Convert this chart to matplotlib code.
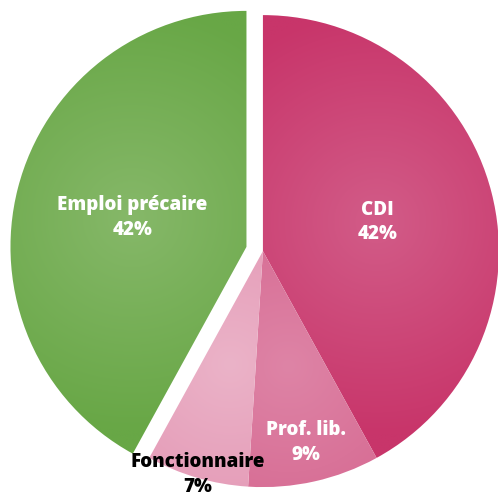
import numpy as np
import matplotlib.pyplot as plt
from matplotlib.colors import to_rgb

# Données
categories = ["CDI", "Prof. lib.", "Fonctionnaire", "Emploi précaire"]
parts = [42, 9, 7, 42]
pourcentages = ["42%", "9%", "7%", "42%"]

# Couleurs (bord sombre, centre clair)
couleurs_bord = ["#c8356a", "#d4628c", "#e291b0", "#68a746"]
couleurs_centre = ["#d25c88", "#de84a6", "#ebb3c8", "#86b869"]
couleurs_texte = ["white", "white", "black", "white"]
dist_texte = [0.50, 0.83, 0.985, 0.50]
explode = [0, 0, 0, 0.072]

plt.rcParams['font.family'] = ['Open Sans', 'DejaVu Sans']

fig = plt.figure(figsize=(4.98, 4.97), dpi=100)
ax = fig.add_axes([0, 0, 1, 1])

wedges, _ = ax.pie(parts, startangle=90, counterclock=False, explode=explode,
                   radius=1.0, wedgeprops=dict(linewidth=0))

ax.set_xlim(-1.114, 0.996)
ax.set_ylim(-1.042, 1.064)
ax.set_aspect('auto')
ax.axis('off')

# Dégradé radial dans chaque part
xs = np.linspace(-1.114, 0.996, 500)
ys = np.linspace(-1.042, 1.064, 500)
X, Y = np.meshgrid(xs, ys)
for i, w in enumerate(wedges):
    w.set_facecolor('none')
    mid = np.radians((w.theta1 + w.theta2) / 2)
    cx, cy = w.center
    gx = cx + 0.5 * np.cos(mid)
    gy = cy + 0.5 * np.sin(mid)
    d = np.sqrt((X - gx) ** 2 + (Y - gy) ** 2)
    t = np.clip(d / 0.9, 0, 1)[..., None]
    c0 = np.array(to_rgb(couleurs_centre[i]))
    c1 = np.array(to_rgb(couleurs_bord[i]))
    img = c0 + (c1 - c0) * t
    im = ax.imshow(img, extent=(xs[0], xs[-1], ys[0], ys[-1]), origin='lower',
                   interpolation='bilinear', zorder=1)
    im.set_clip_path(w)

# Étiquettes
for i, w in enumerate(wedges):
    mid = np.radians((w.theta1 + w.theta2) / 2)
    cx, cy = w.center
    x = cx + dist_texte[i] * np.cos(mid)
    y = cy + dist_texte[i] * np.sin(mid)
    ax.text(x, y, categories[i] + "\n" + pourcentages[i], ha='center', va='center',
            color=couleurs_texte[i], fontsize=13.5, fontweight='heavy',
            linespacing=1.3, zorder=3)

fig.savefig("out.png", dpi=100)
